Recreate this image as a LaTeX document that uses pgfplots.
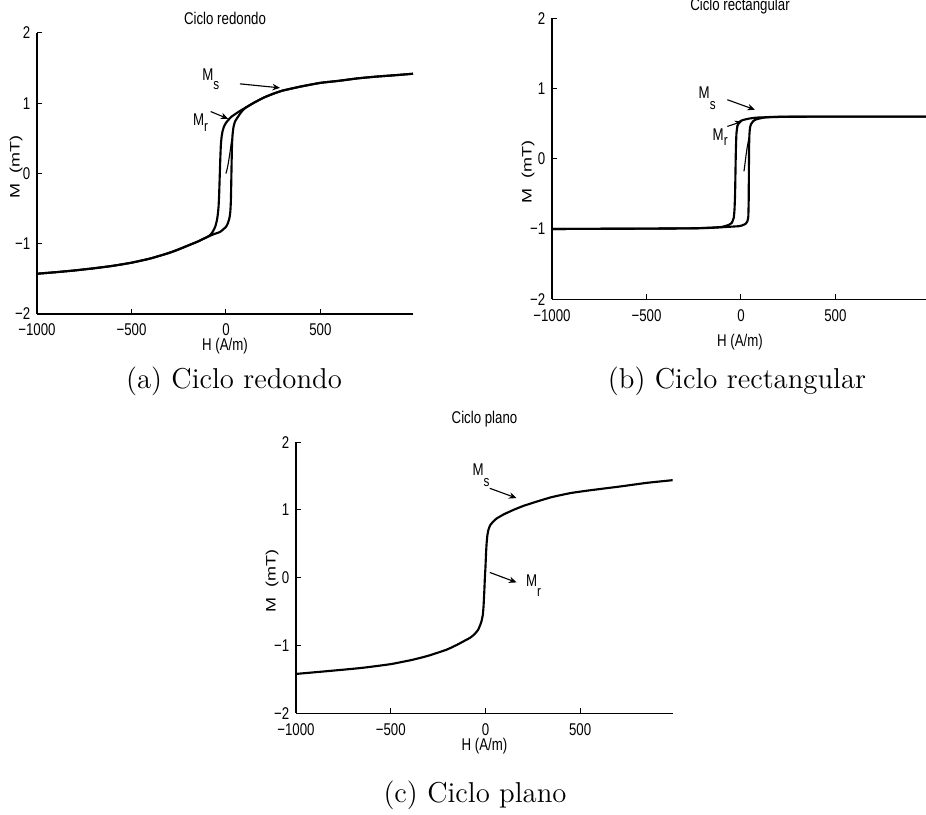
\documentclass[border=0pt]{standalone}
\usepackage{fontspec}
\usepackage{pgfplots}
\pgfplotsset{compat=1.18}
\usetikzlibrary{arrows.meta}
\setmainfont{Latin Modern Roman}
\newfontfamily\mlab[FakeStretch=0.78]{Liberation Sans}
\newfontfamily\mlabn{Liberation Sans}
\newcommand{\mfont}{\mlab\fontsize{6.8}{8}\selectfont}
\newcommand{\subs}[2]{\raisebox{-#1}{\fontsize{6}{6}\selectfont #2}}

\tikzset{
  note/.style={-{Stealth[length=3pt,width=2.6pt]}, black, line width=0.45pt},
}
\pgfplotsset{
  hyst/.style={
    scale only axis,
    xmin=-1000, xmax=990, ymin=-2, ymax=2,
    axis x line=bottom, axis y line=left,
    axis line style={-, black, line width=0.45pt},
    xtick={-1000,-500,0,500}, xticklabels={−1000,−500,0,500},
    ytick={-2,-1,0,1,2}, yticklabels={−2,−1,0,1,2},
    tick align=inside, major tick length=2pt,
    tick style={black, line width=0.4pt},
    ticklabel style={font=\mfont},
    xticklabel style={yshift=-0.5pt},
    yticklabel style={xshift=0.8pt},
    every axis title/.style={font=\mfont, at={(axis description cs:0.5,1)}, anchor=base},
    xlabel={H (A/m)},
    ylabel={\scalebox{1}[0.76]{\mlabn\fontsize{7.2}{8}\selectfont M\ \ (mT)}},
    every axis x label/.style={font=\mfont, at={(axis description cs:0.5,0)}, anchor=center},
    every axis y label/.style={font=\mfont, at={(axis description cs:0,0.5)}, anchor=center, rotate=90},
    clip=false,
  },
  branch/.style={black, line width=0.85pt, smooth, tension=0.3, no marks},
  virgin/.style={black, line width=0.45pt, smooth, tension=0.3, no marks},
}

\begin{document}
\begin{tikzpicture}
\useasboundingbox (0,0) rectangle (370.4pt,326pt);

% ---------------- (a) Ciclo redondo ----------------
% label shifts: the y label is rotated, so yshift moves it sideways
\begin{axis}[hyst, at={(14.8pt,200.4pt)}, anchor=south west,
  width=150.4pt, height=112.4pt,
  title={Ciclo redondo}, title style={yshift=3.3pt},
  xlabel style={yshift=-13pt},
  ylabel style={yshift=8.4pt, xshift=2.6pt}]
% descending branch
\addplot[branch] coordinates {
 (990,1.42) (900,1.40) (800,1.38) (700,1.355) (600,1.32) (500,1.29)
 (400,1.24) (300,1.18) (250,1.135) (200,1.08) (150,1.01) (100,0.93)
 (80,0.90) (57,0.86) (30,0.81) (12,0.76) (0,0.72) (-10,0.67) (-18,0.60)
 (-23,0.52) (-27,0.40) (-30,0.20) (-33,-0.05) (-36,-0.30) (-39,-0.47)
 (-43,-0.58) (-48,-0.67) (-57,-0.76) (-70,-0.83) (-85,-0.88) (-100,-0.905)
 (-150,-0.97) (-200,-1.025) (-250,-1.08) (-300,-1.13) (-400,-1.21)
 (-500,-1.27) (-600,-1.315) (-700,-1.35) (-800,-1.38) (-900,-1.405)
 (-1000,-1.427)};
% ascending branch
\addplot[branch] coordinates {
 (-1000,-1.427) (-900,-1.405) (-800,-1.38) (-700,-1.35) (-600,-1.315)
 (-500,-1.27) (-400,-1.21) (-300,-1.13) (-250,-1.08) (-200,-1.025)
 (-150,-0.97) (-100,-0.905) (-65,-0.865) (-30,-0.83) (0,-0.76) (10,-0.71)
 (18,-0.64) (23,-0.55) (26,-0.40) (28,-0.15) (30,0.15) (32,0.40) (35,0.55)
 (40,0.66) (48,0.74) (62,0.80) (80,0.87) (100,0.93) (150,1.01) (200,1.08)
 (250,1.135) (300,1.18) (400,1.24) (500,1.29) (600,1.32) (700,1.355)
 (800,1.38) (900,1.40) (990,1.42)};
% first magnetisation
\addplot[virgin] coordinates {
 (0,0) (6,0.06) (12,0.14) (18,0.24) (23,0.33) (28,0.43) (32,0.50)};
\node[anchor=base west, font=\mfont, inner sep=0pt] at (axis cs:-127,1.323) {M\subs{3.6pt}{s}};
\draw[note] (axis cs:74,1.276) -- (axis cs:286,1.219);
\node[anchor=base west, font=\mfont, inner sep=0pt] at (axis cs:-176,0.683) {M\subs{2.4pt}{r}};
\draw[note] (axis cs:-81,0.882) -- (axis cs:12,0.778);
\end{axis}

% ---------------- (b) Ciclo rectangular ----------------
\begin{axis}[hyst, at={(220.8pt,206.3pt)}, anchor=south west,
  width=150.4pt, height=112.4pt,
  title={Ciclo rectangular}, title style={yshift=3.2pt},
  xlabel style={yshift=-17.2pt},
  ylabel style={yshift=9.6pt, xshift=-5.4pt}]
\addplot[branch] coordinates {
 (990,0.60) (500,0.60) (300,0.598) (200,0.595) (130,0.59) (80,0.585)
 (40,0.57) (16,0.555) (0,0.54) (-11,0.51) (-19,0.46) (-24,0.35) (-27,0.10)
 (-29,-0.20) (-31,-0.50) (-34,-0.72) (-38,-0.84) (-48,-0.91) (-63,-0.94)
 (-100,-0.97) (-150,-0.98) (-250,-0.99) (-500,-0.995) (-1000,-1.0)};
\addplot[branch] coordinates {
 (-1000,-1.0) (-500,-0.995) (-250,-0.99) (-169,-0.985) (-100,-0.975)
 (-11,-0.96) (10,-0.945) (25,-0.925) (34,-0.89) (39,-0.82) (41,-0.60)
 (42,-0.20) (43,0.15) (45,0.35) (48,0.44) (53,0.49) (65,0.535) (80,0.56)
 (130,0.59) (200,0.597) (500,0.60) (990,0.60)};
\addplot[virgin] coordinates {
 (16,-0.18) (21,-0.08) (27,0.05) (33,0.16) (39,0.25) (43,0.31)};
\node[anchor=base west, font=\mfont, inner sep=0pt] at (axis cs:-226,0.854) {M\subs{4.2pt}{s}};
\draw[note] (axis cs:-72,0.840) -- (axis cs:74,0.698);
\node[anchor=base west, font=\mfont, inner sep=0pt] at (axis cs:-152,0.26) {M\subs{2pt}{r}};
\draw[note] (axis cs:-72,0.46) -- (axis cs:7,0.53);
\end{axis}

% ---------------- (c) Ciclo plano ----------------
\begin{axis}[hyst, at={(118.4pt,40.7pt)}, anchor=south west,
  width=150.8pt, height=108.4pt,
  title={Ciclo plano}, title style={yshift=7.6pt},
  xlabel style={yshift=-13pt},
  ylabel style={yshift=9.6pt, xshift=-1.4pt}]
\addplot[branch] coordinates {
 (-1000,-1.42) (-900,-1.395) (-800,-1.37) (-650,-1.33) (-500,-1.275)
 (-383,-1.21) (-300,-1.15) (-206,-1.063) (-150,-0.99) (-110,-0.93)
 (-83,-0.89) (-60,-0.84) (-39,-0.77) (-28,-0.70) (-21,-0.645) (-14,-0.55)
 (-10,-0.42) (-6,-0.20) (-3,0) (0,0.15) (3,0.35) (6,0.50) (10,0.62)
 (16,0.71) (26,0.78) (45,0.84) (62,0.88) (100,0.94) (150,1.004) (200,1.06)
 (273,1.126) (350,1.19) (450,1.25) (550,1.29) (714,1.348) (850,1.40)
 (988,1.44)};
\node[anchor=base west, font=\mfont, inner sep=0pt] at (axis cs:-70,1.506) {M\subs{4.2pt}{s}};
\draw[note] (axis cs:23,1.32) -- (axis cs:164,1.176);
\node[anchor=base west, font=\mfont, inner sep=0pt] at (axis cs:212,-0.128) {M\subs{4pt}{r}};
\draw[note] (axis cs:23,0.078) -- (axis cs:164,-0.069);
\end{axis}

% sub-figure captions
\node[font=\fontsize{11.5}{14}\selectfont] at (93.6pt,173.6pt) {(a) Ciclo redondo};
\node[font=\fontsize{11.5}{14}\selectfont] at (294.8pt,173.6pt) {(b) Ciclo rectangular};
\node[font=\fontsize{11.5}{14}\selectfont] at (190pt,7.8pt) {(c) Ciclo plano};
\end{tikzpicture}
\end{document}
